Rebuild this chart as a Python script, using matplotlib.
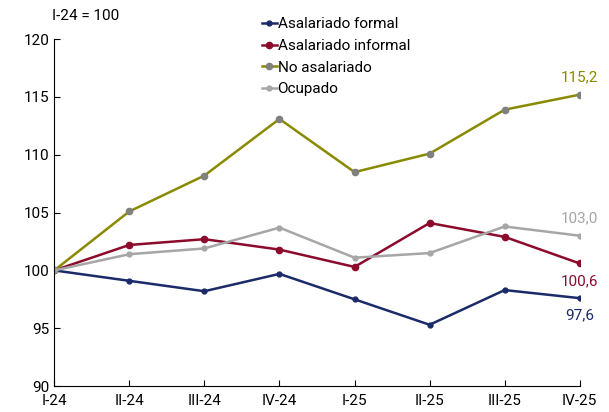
import matplotlib.pyplot as plt

plt.rcParams['font.family'] = ['Roboto', 'DejaVu Sans']

quarters = ['I-24', 'II-24', 'III-24', 'IV-24', 'I-25', 'II-25', 'III-25', 'IV-25']
formal = [100, 99.1, 98.2, 99.7, 97.5, 95.3, 98.3, 97.6]
informal = [100, 102.2, 102.7, 101.8, 100.3, 104.1, 102.9, 100.6]
no_asal = [100, 105.1, 108.2, 113.1, 108.5, 110.1, 113.9, 115.2]
ocupado = [100, 101.4, 101.9, 103.7, 101.1, 101.5, 103.8, 103.0]

c_formal = '#1b2a68'
c_informal = '#8c0a2c'
c_noasal = '#8a8a00'
c_ocup = '#a6a6a6'

fig = plt.figure(figsize=(6.09, 4.12), dpi=100)
ax = fig.add_axes([0.089, 0.063, 0.863, 0.842])
x = range(len(quarters))

ax.plot(x, formal, color=c_formal, lw=1.8, marker='o', ms=3.5, label='Asalariado formal')
ax.plot(x, informal, color=c_informal, lw=1.8, marker='o', ms=4.5, label='Asalariado informal')
ax.plot(x, no_asal, color=c_noasal, lw=1.8, marker='o', ms=4.5, mfc='#808080', mec='#808080',
        label='No asalariado')
ax.plot(x, ocupado, color=c_ocup, lw=1.8, marker='o', ms=3.5, label='Ocupado')

ax.text(7, no_asal[-1] + 0.9, '115,2', color=c_noasal, ha='center', va='bottom', fontsize=11)
ax.text(7, ocupado[-1] + 0.9, '103,0', color=c_ocup, ha='center', va='bottom', fontsize=11)
ax.text(7, informal[-1] - 0.9, '100,6', color=c_informal, ha='center', va='top', fontsize=11)
ax.text(7, formal[-1] - 0.9, '97,6', color=c_formal, ha='center', va='top', fontsize=11)

ax.set_xlim(0, 7)
ax.set_ylim(90, 120)
ax.set_yticks(range(90, 121, 5))
ax.set_xticks(list(x))
ax.set_xticklabels(quarters)
ax.tick_params(direction='in', labelsize=11, length=4)
ax.tick_params(axis='x', pad=6)
ax.spines['top'].set_visible(False)
ax.spines['right'].set_visible(False)

fig.text(0.085, 0.945, 'I-24 = 100', fontsize=11, ha='left', va='bottom')

ax.legend(loc='upper left', bbox_to_anchor=(0.38, 1.085), frameon=False, fontsize=11,
          handlelength=1.0, handletextpad=0.05, labelspacing=0.5, borderpad=0)

fig.savefig('out.png', dpi=100)
